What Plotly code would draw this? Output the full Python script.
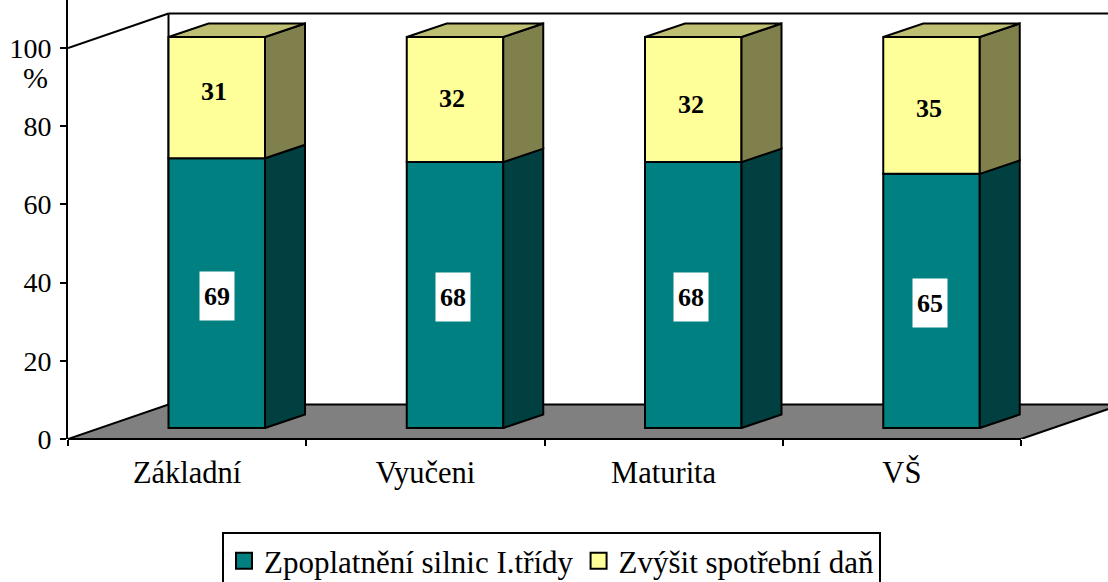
import plotly.graph_objects as go

categories = ["Základní", "Vyučeni", "Maturita", "VŠ"]
toll_values = [69, 68, 68, 65]
excise_values = [31, 32, 32, 35]
series_names = ["Zpoplatnění silnic I.třídy", "Zvýšit spotřební daň"]
y_ticks = [0, 20, 40, 60, 80, 100]

W, H = 1108, 582
ML, MB = 68, 143
PX_X = 238.25
PX_Y = 3.91
FONT = "Liberation Serif"
TEAL, TEAL_SIDE = "#008080", "#004040"
YEL, YEL_SIDE, YEL_TOP = "#FFFF99", "#80804D", "#BFBF73"

px2x = lambda p: p / PX_X
px2y = lambda p: p / PX_Y

WALL_X, WALL_Y = px2x(100.5), px2y(34.5)
BAR_X, BAR_Y = px2x(100.5), px2y(11)
BAR_W = px2x(96.5)
DEPTH_X, DEPTH_Y = px2x(40), px2y(13.5)

lefts = [i + BAR_X for i in range(len(categories))]
centers = [l + BAR_W / 2 for l in lefts]
fig = go.Figure()


def bar(vals, bases, color, name):
    fig.add_trace(go.Bar(x=centers, y=vals, base=[b + BAR_Y for b in bases], width=BAR_W,
                         marker=dict(color=color, line=dict(color="black", width=2)),
                         name=name, showlegend=False, hoverinfo="skip"))


def poly(xs, ys, color):
    fig.add_trace(go.Scatter(x=xs, y=ys, mode="lines", fill="toself", fillcolor=color,
                             line=dict(color="black", width=2), showlegend=False, hoverinfo="skip"))


bar(toll_values, [0] * 4, TEAL, series_names[0])
bar(excise_values, toll_values, YEL, series_names[1])

for i, l in enumerate(lefts):
    r = l + BAR_W
    t0 = BAR_Y
    t1 = BAR_Y + toll_values[i]
    t2 = t1 + excise_values[i]
    poly([r, r + DEPTH_X, r + DEPTH_X, r, r], [t0, t0 + DEPTH_Y, t1 + DEPTH_Y, t1, t0], TEAL_SIDE)
    poly([r, r + DEPTH_X, r + DEPTH_X, r, r], [t1, t1 + DEPTH_Y, t2 + DEPTH_Y, t2, t1], YEL_SIDE)
    poly([l, r, r + DEPTH_X, l + DEPTH_X, l], [t2, t2, t2 + DEPTH_Y, t2 + DEPTH_Y, t2], YEL_TOP)

# legend entries
for name, color in zip(series_names, [TEAL, YEL]):
    fig.add_trace(go.Scatter(x=[None], y=[None], mode="markers", name=name,
                             marker=dict(symbol="square", size=16, color=color,
                                         line=dict(color="black", width=2))))

n = len(categories)
floor = (f"M0,0 L{n},0 L{n + WALL_X},{WALL_Y} L{WALL_X},{WALL_Y} Z")
shapes = [
    dict(type="path", path=floor, xref="x", yref="y", fillcolor="#808080",
         line=dict(color="black", width=2), layer="below"),
    dict(type="line", xref="x", yref="y", x0=0, y0=100, x1=WALL_X, y1=100 + WALL_Y,
         line=dict(color="black", width=2), layer="below"),
    dict(type="line", xref="x", yref="y", x0=WALL_X, y0=WALL_Y, x1=WALL_X, y1=100 + WALL_Y,
         line=dict(color="black", width=2), layer="below"),
    dict(type="line", xref="x", yref="y", x0=WALL_X, y0=100 + WALL_Y, x1=n + 1, y1=100 + WALL_Y,
         line=dict(color="black", width=2), layer="below"),
    dict(type="line", xref="x", yref="paper", x0=0, y0=0, x1=n, y1=0,
         line=dict(color="black", width=2), layer="above"),
]

label_yshift_toll = [-3, -2, -2, -2]
label_yshift_excise = [6, 1, -5, -3]
label_xshift_toll = [0, -2, -2, -2]
label_xshift_excise = [-3, -3, -2, -3]
annotations = []
for i, c in enumerate(centers):
    annotations.append(dict(x=c, y=BAR_Y + toll_values[i] / 2, xshift=label_xshift_toll[i],
                            yshift=label_yshift_toll[i], text=f"<b>{toll_values[i]}</b>",
                            showarrow=False, bgcolor="white", width=32, height=46,
                            font=dict(family=FONT, size=26, color="black")))
    annotations.append(dict(x=c, y=BAR_Y + toll_values[i] + excise_values[i] / 2, xshift=label_xshift_excise[i],
                            yshift=label_yshift_excise[i],
                            text=f"<b>{excise_values[i]}</b>", showarrow=False,
                            font=dict(family=FONT, size=26, color="black")))
annotations.append(dict(xref="paper", yref="paper", x=(35 - ML) / (W - ML), y=(H - MB - 77) / (H - MB), text="%",
                        xanchor="center", yanchor="middle",
                        showarrow=False, font=dict(family=FONT, size=30, color="black")))

fig.update_layout(
    width=W, height=H, margin=dict(l=ML, r=0, t=0, b=MB, pad=0),
    paper_bgcolor="white", plot_bgcolor="white", barmode="overlay",
    font=dict(family=FONT, size=28, color="black"),
    shapes=shapes, annotations=annotations,
    xaxis=dict(range=[0, (W - ML) / PX_X], showgrid=False, zeroline=False, showline=False,
               tickmode="array", tickvals=[i + 0.5 for i in range(n)], ticktext=categories,
               tickfont=dict(family=FONT, size=30.5, color="black"),
               ticks="outside", ticklen=6, tickcolor="rgba(0,0,0,0)",
               minor=dict(tickmode="array", tickvals=list(range(n + 1)), ticks="outside", ticklen=6,
                          tickwidth=2, tickcolor="black")),
    yaxis=dict(range=[0, (H - MB) / PX_Y], showgrid=False, zeroline=False, showline=True, linecolor="black",
               linewidth=2, tickmode="array", tickvals=y_ticks, ticks="outside", ticklen=6,
               tickwidth=2, tickcolor="black", ticklabelstandoff=3),
    legend=dict(orientation="h", xref="container", yref="container", x=222 / W, y=1 - 532 / H,
                xanchor="left", yanchor="top", bordercolor="black", borderwidth=2, bgcolor="white",
                font=dict(family=FONT, size=31, color="black"), itemsizing="trace"),
)

fig.write_html("out.html", config={"displayModeBar": False},
               post_script="document.body.style.margin='0';document.documentElement.style.overflow='hidden';")
